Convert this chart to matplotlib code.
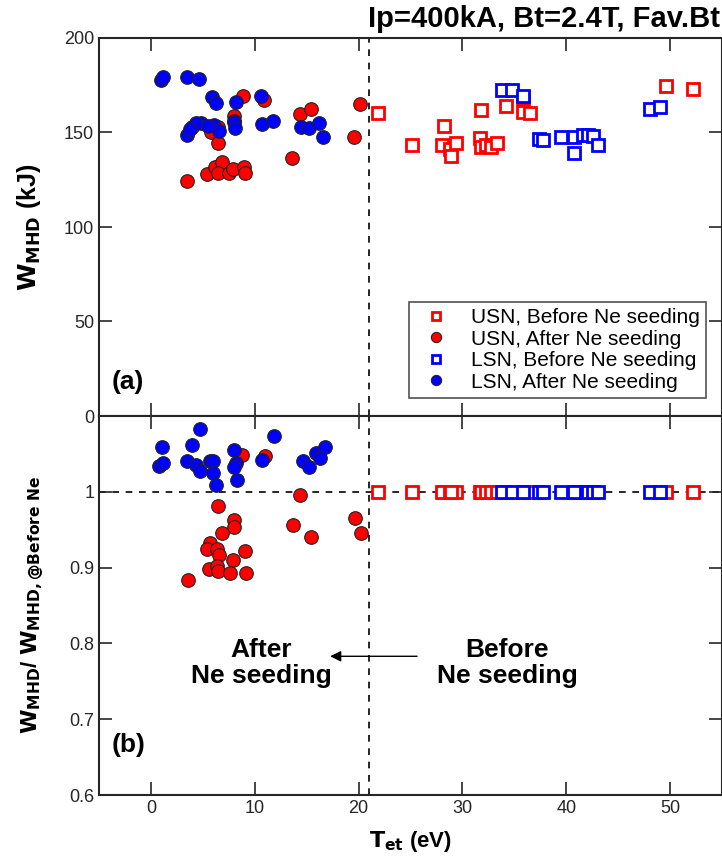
import matplotlib
matplotlib.use("Agg")
import matplotlib.pyplot as plt

plt.rcParams['font.family'] = ['Liberation Sans Narrow', 'Liberation Sans', 'DejaVu Sans']

# ---------------- data ----------------
# Panel (a): W_MHD (kJ) vs T_et (eV)
usn_before_T = [21.9, 25.1, 28.2, 28.0, 28.8, 29.4, 28.9, 31.7, 31.8, 31.8, 32.3, 32.8, 33.3, 34.2, 35.8, 35.8, 36.5, 49.6, 52.2]
usn_before_W = [160.5, 143.4, 153.4, 143.4, 141.3, 144.3, 137.6, 147.3, 161.7, 142.5, 143.4, 142.5, 144.3, 164.2, 168.1, 161.0, 160.2, 174.6, 173.0]

usn_after_T = [8.9, 10.9, 8.0, 6.5, 5.8, 6.5, 14.4, 15.4, 20.1, 19.6, 13.6, 3.5, 5.4, 6.2, 6.8, 6.5, 7.5, 7.9, 9.0, 9.1, 8.0]
usn_after_W = [169.3, 167.2, 158.7, 153.1, 150.4, 144.6, 159.8, 162.4, 165.1, 147.8, 136.7, 124.3, 127.9, 131.9, 134.6, 128.4, 128.4, 130.5, 131.9, 128.4, 156.0]

lsn_before_T = [33.8, 34.8, 35.8, 37.4, 37.8, 39.5, 40.7, 41.6, 42.1, 42.6, 40.7, 43.1, 48.1, 49.0]
lsn_before_W = [172.5, 172.5, 169.3, 146.4, 146.0, 147.8, 147.8, 148.7, 148.7, 148.3, 139.0, 143.4, 162.3, 163.7]

lsn_after_T = [1.0, 1.2, 3.5, 4.6, 5.9, 6.3, 8.2, 10.6, 3.5, 4.0, 4.8, 4.3, 3.8, 6.1, 6.6, 5.5, 8.0, 8.1, 10.7, 11.8, 14.5, 15.2, 16.2, 16.6]
lsn_after_W = [177.8, 179.2, 179.2, 178.1, 168.6, 165.4, 166.3, 169.5, 148.7, 153.1, 155.2, 155.0, 152.0, 154.0, 151.0, 153.5, 155.7, 152.2, 154.3, 156.2, 153.1, 152.5, 155.2, 147.8]

# Panel (b): W_MHD / W_MHD,@Before Ne
usn_before_R = [1.0] * len(usn_before_T)
lsn_before_R = [1.0] * len(lsn_before_T)

usn_after_rT = [8.8, 11.0, 14.4, 6.5, 8.0, 8.0, 6.8, 13.7, 15.4, 19.7, 20.2, 5.7, 5.4, 6.4, 6.6, 9.1, 7.9, 5.6, 6.4, 6.5, 7.6, 9.2, 3.6]
usn_after_R = [1.049, 1.047, 0.996, 0.981, 0.963, 0.954, 0.946, 0.956, 0.940, 0.965, 0.945, 0.932, 0.925, 0.925, 0.917, 0.922, 0.910, 0.898, 0.902, 0.895, 0.893, 0.893, 0.883]

lsn_after_rT = [4.75, 1.1, 0.8, 1.2, 4.0, 3.5, 4.3, 4.7, 5.7, 6.0, 6.0, 6.3, 8.0, 8.2, 8.0, 8.3, 10.7, 11.9, 14.6, 15.2, 15.9, 16.8, 16.3]
lsn_after_R = [1.083, 1.059, 1.034, 1.038, 1.062, 1.041, 1.036, 1.027, 1.040, 1.040, 1.025, 1.009, 1.055, 1.038, 1.033, 1.016, 1.042, 1.073, 1.040, 1.033, 1.051, 1.059, 1.044]

x_ticks = [0, 10, 20, 30, 40, 50]
ya_ticks = [0, 50, 100, 150, 200]
yb_ticks = [0.6, 0.7, 0.8, 0.9, 1]
ne_start_T = 21.0

# ---------------- figure ----------------
fig = plt.figure(figsize=(7.22, 8.63), dpi=100)
L, R = 99 / 722, 722 / 722
axa = fig.add_axes([L, 1 - 416 / 863, R - L, 378 / 863])
axb = fig.add_axes([L, 1 - 795 / 863, R - L, 379 / 863])

sq = dict(marker='s', ms=8.5, mfc='white', mew=2.0, ls='none')
ci = dict(marker='o', ms=9.8, mec='#222222', mew=0.8, ls='none')

for ax, (ub, ua_t, ua, lb, la_t, la) in [
    (axa, (usn_before_W, usn_after_T, usn_after_W, lsn_before_W, lsn_after_T, lsn_after_W)),
    (axb, (usn_before_R, usn_after_rT, usn_after_R, lsn_before_R, lsn_after_rT, lsn_after_R)),
]:
    ax.plot(usn_before_T, ub, mec='#ff0000', label='USN, Before Ne seeding', **sq)
    ax.plot(ua_t, ua, mfc='#ff0000', label='USN, After Ne seeding', **ci)
    ax.plot(lsn_before_T, lb, mec='#0000ff', label='LSN, Before Ne seeding', **sq)
    ax.plot(la_t, la, mfc='#0000ff', label='LSN, After Ne seeding', **ci)
    ax.axvline(ne_start_T, color='black', ls=(0, (4, 4)), lw=1.2, zorder=0)
    ax.set_xlim(-5, 55)
    ax.set_xticks(x_ticks)
    ax.tick_params(direction='in', length=9.5, width=1.2, top=True, right=True,
                   labelsize=13, colors='#262626', labelcolor='#262626')
    for s in ax.spines.values():
        s.set_linewidth(1.5)
        s.set_color('#262626')

axb.axhline(1.0, color='black', ls=(0, (4, 4)), lw=1.2, zorder=0)

axa.set_ylim(0, 200)
axa.set_yticks(ya_ticks)
axa.set_xticklabels([])
axb.set_ylim(0.6, 1.1)
axb.set_yticks(yb_ticks)
axb.set_yticklabels(['0.6', '0.7', '0.8', '0.9', '1'])

axa.set_ylabel(r'$\mathbf{W_{MHD}}$ (kJ)', fontsize=18, fontweight='bold')
axb.set_ylabel(r'$\mathbf{W_{MHD}}$/ $\mathbf{W_{MHD,@Before\ Ne}}$', fontsize=16, fontweight='bold')
axb.set_xlabel(r'$\mathbf{T_{et}}$ (eV)', fontsize=16, fontweight='bold', labelpad=9)
axa.yaxis.set_label_coords(-0.09, 0.5)
axb.yaxis.set_label_coords(-0.085, 0.5)

axa.text(-3.8, 18, '(a)', fontsize=19, fontweight='bold', ha='left', va='center')
axb.text(-3.8, 0.666, '(b)', fontsize=19, fontweight='bold', ha='left', va='center')

axb.text(10.6, 0.774, 'After\nNe seeding', fontsize=19, fontweight='bold', ha='center', va='center', linespacing=1.1)
axb.text(34.3, 0.774, 'Before\nNe seeding', fontsize=19, fontweight='bold', ha='center', va='center', linespacing=1.1)
axb.annotate('', xy=(17.0, 0.783), xytext=(25.9, 0.783),
             arrowprops=dict(arrowstyle='-|>', color='black', lw=1.0, mutation_scale=16))

fig.text(720 / 722, 1 - 19 / 863, 'Ip=400kA, Bt=2.4T, Fav.Bt', fontsize=21, fontweight='bold',
         ha='right', va='center')

leg = axa.legend(loc='lower right', bbox_to_anchor=(0.975, 0.048),
                 frameon=True, fancybox=False, edgecolor='#262626',
                 handlelength=2.0, handletextpad=0.7, borderpad=0.3, labelspacing=0.12,
                 markerscale=0.75, borderaxespad=0,
                 prop={'family': ['Liberation Sans', 'DejaVu Sans'], 'size': 15})
leg.get_frame().set_linewidth(1.2)

fig.savefig('out.png', dpi=100)
